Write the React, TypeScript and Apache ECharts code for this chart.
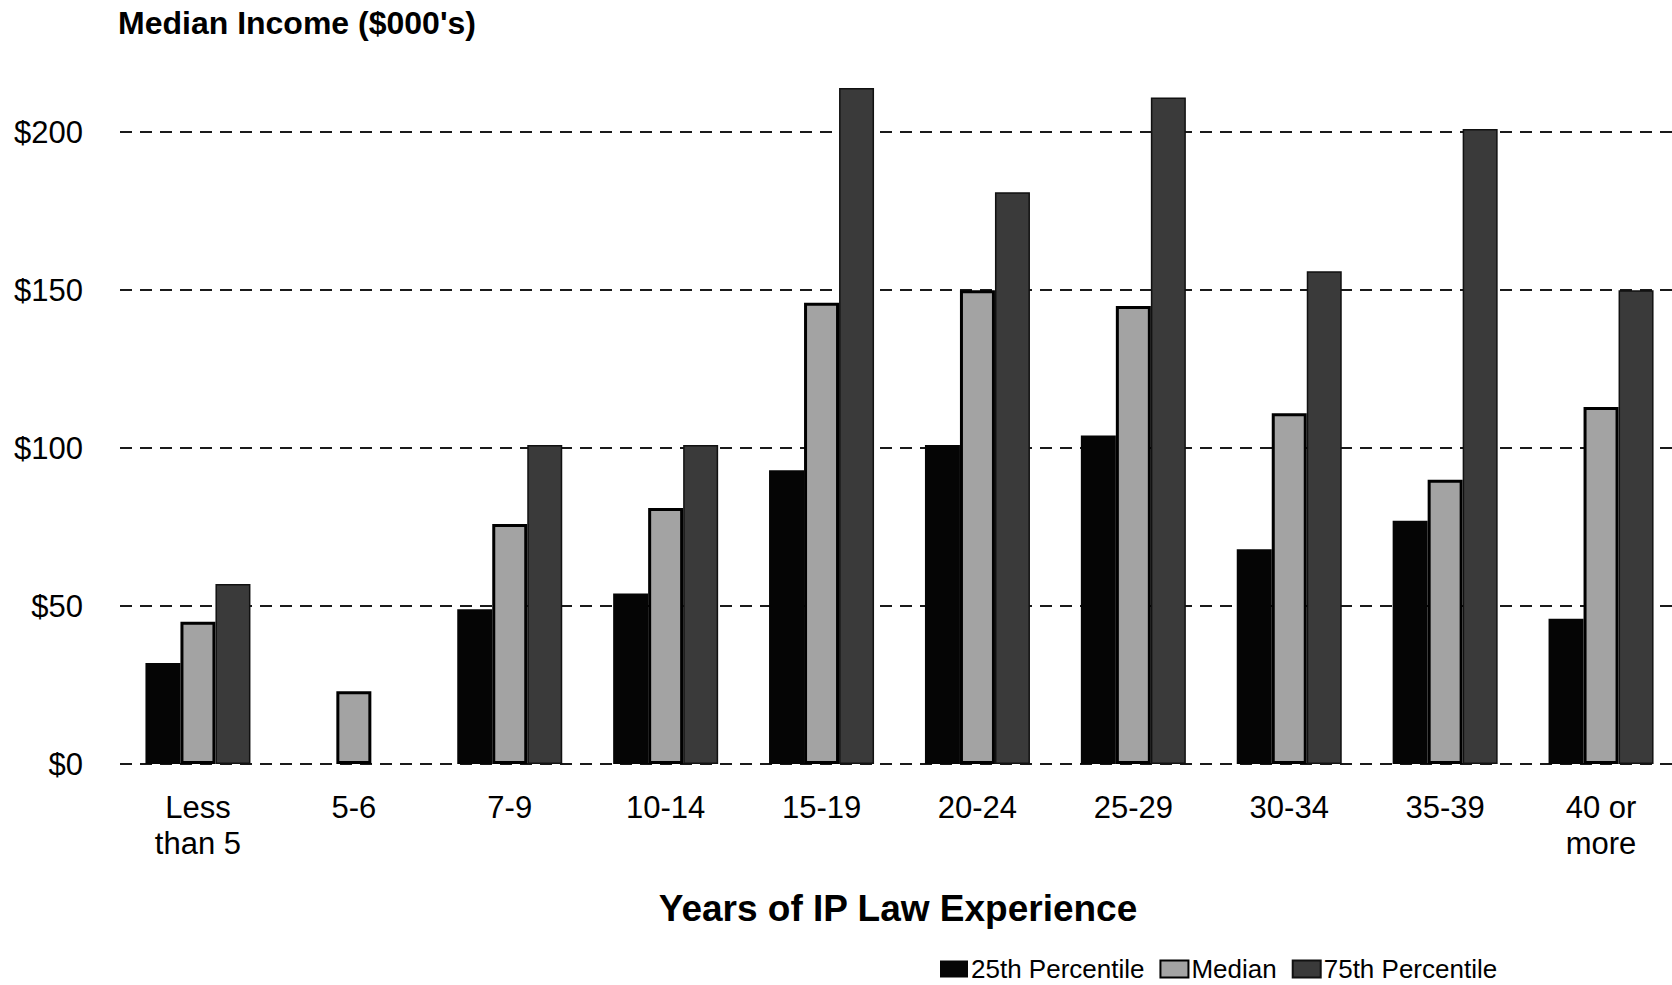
import React, { useEffect, useRef } from "react";
import * as echarts from "echarts";

const categories = ["Less\nthan 5", "5-6", "7-9", "10-14", "15-19", "20-24", "25-29", "30-34", "35-39", "40 or\nmore"];
const p25 = [32, null, 49, 54, 93, 101, 104, 68, 77, 46];
const median = [45, 23, 76, 81, 146, 150, 145, 111, 90, 113];
const p75 = [57, null, 101, 101, 214, 181, 211, 156, 201, 150];
const seriesNames = ["25th Percentile", "Median", "75th Percentile"];
const yTitle = "Median Income ($000's)";
const xTitle = "Years of IP Law Experience";

const FONT = "'Liberation Sans', Arial, sans-serif";

export default function App() {
  const ref = useRef<HTMLDivElement>(null);
  useEffect(() => {
    document.body.style.margin = "0";
    if (!ref.current) return;
    const chart = echarts.init(ref.current, undefined, { renderer: "svg" });
    chart.setOption({
      animation: false,
      backgroundColor: "#ffffff",
      textStyle: { fontFamily: FONT },
      grid: {
        left: 120,
        width: 1559,
        top: 69,
        bottom: 221,
        containLabel: false,
        outerBoundsMode: "none",
      },
      legend: {
        data: seriesNames,
        icon: "rect",
        left: 940,
        top: 956,
        padding: 0,
        itemWidth: 28,
        itemHeight: 17,
        itemGap: 15,
        textStyle: {
          fontSize: 26,
          lineHeight: 26,
          color: "#000",
          fontFamily: FONT,
          padding: [0, 0, 0, -2],
        },
      },
      graphic: [
        {
          type: "text",
          left: 118,
          top: 7,
          style: { text: yTitle, font: `bold 32px ${FONT}`, fill: "#000" },
        },
        {
          type: "text",
          x: 898,
          y: 908,
          style: {
            text: xTitle,
            font: `bold 37px ${FONT}`,
            fill: "#000",
            textAlign: "center",
            textVerticalAlign: "middle",
          },
        },
      ],
      xAxis: {
        type: "category",
        data: categories,
        axisLine: { show: false },
        axisTick: { show: false },
        axisLabel: {
          color: "#000",
          fontSize: 31,
          fontFamily: FONT,
          margin: 25,
          lineHeight: 36,
          interval: 0,
        },
      },
      yAxis: {
        type: "value",
        min: 0,
        max: 220,
        interval: 50,
        axisLine: { show: false },
        axisTick: { show: false },
        axisLabel: {
          color: "#000",
          fontSize: 31,
          fontFamily: FONT,
          margin: 37,
          showMaxLabel: false,
          formatter: (v: number) => (v % 50 === 0 ? "$" + v : ""),
        },
        splitLine: {
          show: true,
          showMaxLine: false,
          lineStyle: { color: "#1a1a1a", width: 2, type: [12, 8] },
        },
      },
      series: [
        {
          name: seriesNames[0],
          type: "bar",
          data: p25,
          barWidth: 35,
          barGap: "0%",
          itemStyle: { color: "#050505" },
        },
        {
          name: seriesNames[1],
          type: "bar",
          data: median,
          barWidth: 35,
          barGap: "0%",
          itemStyle: { color: "#a3a3a3", borderColor: "#000", borderWidth: 3 },
        },
        {
          name: seriesNames[2],
          type: "bar",
          data: p75,
          barWidth: 35,
          barGap: "0%",
          itemStyle: { color: "#3a3a3a", borderColor: "#111", borderWidth: 1.5 },
        },
      ],
    });
    return () => chart.dispose();
  }, []);
  return <div ref={ref} style={{ width: 1672, height: 985 }} />;
}
